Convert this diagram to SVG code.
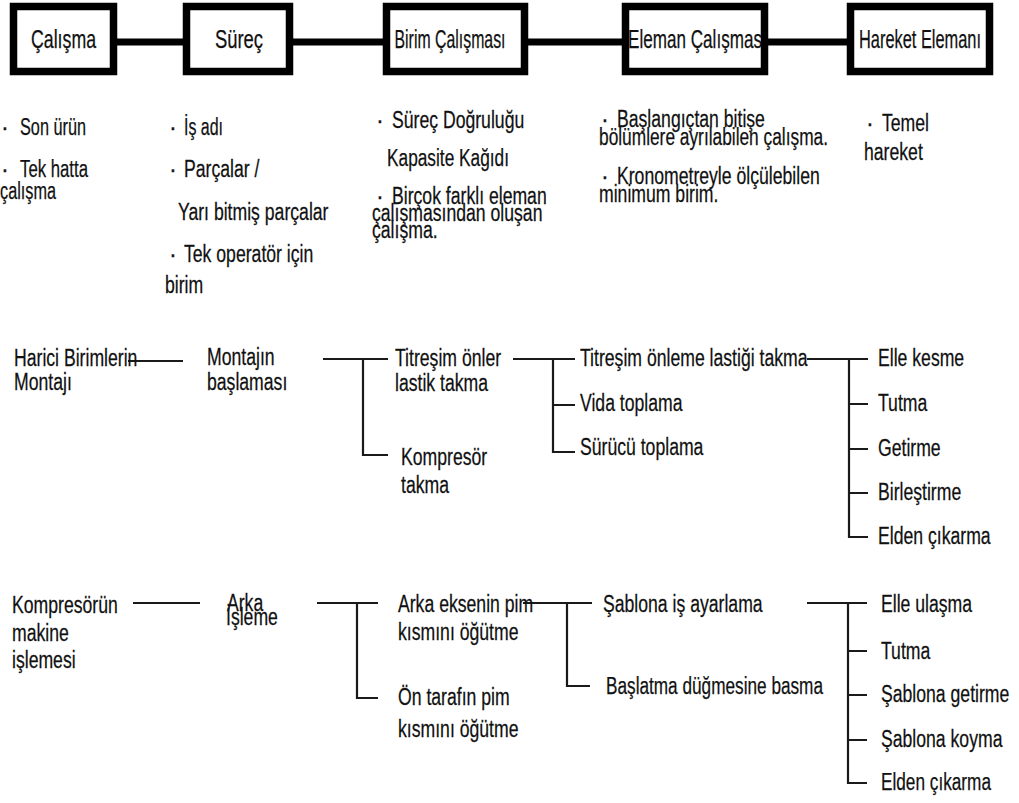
<svg xmlns="http://www.w3.org/2000/svg" width="1019" height="803" viewBox="0 0 1019 803">
  <style>
    text { font-family: "Liberation Sans", Arial, sans-serif; font-size: 23.5px; fill: #111111; stroke: #111111; stroke-width: 0.25; }
    .box { fill: #ffffff; stroke: #000000; stroke-width: 7.5; }
    .bar { stroke: #000000; stroke-width: 7; fill: none; }
    .ln { stroke: #1a1a1a; stroke-width: 2.2; fill: none; }
    .lbl { text-anchor: middle; font-size: 25px; }
  </style>

  <!-- connectors -->
  <g id="connectors">
    <!-- thick links between the header boxes -->
    <line class="bar" x1="117" y1="42" x2="183" y2="42"/>
    <line class="bar" x1="293" y1="42" x2="383" y2="42"/>
    <line class="bar" x1="528" y1="42" x2="622" y2="42"/>
    <line class="bar" x1="768" y1="42" x2="847" y2="42"/>

    <!-- assembly branch -->
    <line class="ln" x1="128" y1="361" x2="183" y2="361"/>
    <path class="ln" d="M323 359 H388 M363 359 V455 H388"/>
    <path class="ln" d="M513 359 H575 M553 359 V452 H575 M553 405 H575"/>
    <path class="ln" d="M807 359 H868 M849 359 V537 H868 M849 404 H868 M849 449 H868 M849 493 H868"/>

    <!-- machining branch -->
    <line class="ln" x1="133" y1="603" x2="200" y2="603"/>
    <path class="ln" d="M317 603 H378 M357 603 V698 H378"/>
    <path class="ln" d="M523 603 H592 M567 603 V686 H590"/>
    <path class="ln" d="M807 603 H867 M848 603 V783 H867 M848 651 H867 M848 695 H867 M848 740 H867"/>
  </g>

  <!-- header boxes -->
  <g id="calisma">
    <rect class="box" x="13.5" y="6.5" width="100" height="65"/>
    <text class="lbl" x="63.5" y="48" textLength="65" lengthAdjust="spacingAndGlyphs">Çalışma</text>
  </g>
  <g id="surec">
    <rect class="box" x="186.5" y="6.5" width="103" height="65"/>
    <text class="lbl" x="239" y="48" textLength="48" lengthAdjust="spacingAndGlyphs">Süreç</text>
  </g>
  <g id="birim-calismasi">
    <rect class="box" x="386.5" y="6.5" width="138" height="65"/>
    <text class="lbl" x="450" y="48" textLength="111" lengthAdjust="spacingAndGlyphs">Birim Çalışması</text>
  </g>
  <g id="eleman-calismasi">
    <rect class="box" x="625.5" y="6.5" width="139" height="65"/>
    <text class="lbl" x="695" y="48" textLength="134" lengthAdjust="spacingAndGlyphs">Eleman Çalışmas</text>
  </g>
  <g id="hareket-elemani">
    <rect class="box" x="850.5" y="6.5" width="139" height="65"/>
    <text class="lbl" x="920" y="48" textLength="122" lengthAdjust="spacingAndGlyphs">Hareket Elemanı</text>
  </g>

  <!-- descriptions under each header -->
  <g id="desc-calisma">
    <text x="1" y="135">·</text>
    <text x="20" y="135" textLength="66" lengthAdjust="spacingAndGlyphs">Son ürün</text>
    <text x="1" y="177">·</text>
    <text x="20" y="177" textLength="68" lengthAdjust="spacingAndGlyphs">Tek hatta</text>
    <text x="0" y="199" textLength="56" lengthAdjust="spacingAndGlyphs">çalışma</text>
  </g>
  <g id="desc-surec">
    <text x="169" y="135">·</text>
    <text x="184" y="135" textLength="39" lengthAdjust="spacingAndGlyphs">İş adı</text>
    <text x="169" y="177">·</text>
    <text transform="translate(184 177) scale(.75 1)">Parçalar /</text>
    <text transform="translate(178 220) scale(.75 1)">Yarı bitmiş parçalar</text>
    <text x="169" y="262">·</text>
    <text transform="translate(184 262) scale(.75 1)">Tek operatör için</text>
    <text transform="translate(165 293) scale(.75 1)">birim</text>
  </g>
  <g id="desc-birim">
    <text x="376" y="128">·</text>
    <text transform="translate(392 128) scale(.75 1)">Süreç Doğruluğu</text>
    <text x="387" y="166" textLength="122" lengthAdjust="spacingAndGlyphs">Kapasite Kağıdı</text>
    <text x="376" y="204">·</text>
    <text transform="translate(392 204) scale(.75 1)">Birçok farklı eleman</text>
    <text transform="translate(372 221) scale(.75 1)">çalışmasından oluşan</text>
    <text transform="translate(372 238) scale(.75 1)">çalışma.</text>
  </g>
  <g id="desc-eleman">
    <text x="601" y="127">·</text>
    <text transform="translate(617 127) scale(.75 1)">Başlangıçtan bitişe</text>
    <text x="599" y="145" textLength="229" lengthAdjust="spacingAndGlyphs">bölümlere ayrılabilen çalışma.</text>
    <text x="601" y="184">·</text>
    <text transform="translate(617 184) scale(.75 1)">Kronometreyle ölçülebilen</text>
    <text transform="translate(599 202) scale(.75 1)">minimum birim.</text>
  </g>
  <g id="desc-hareket">
    <text x="866" y="131">·</text>
    <text transform="translate(882 131) scale(.75 1)">Temel</text>
    <text transform="translate(864 160) scale(.75 1)">hareket</text>
  </g>

  <!-- assembly example -->
  <g id="harici-birimler">
    <text transform="translate(14 366) scale(.75 1)">Harici Birimlerin</text>
    <text transform="translate(14 390) scale(.75 1)">Montajı</text>
  </g>
  <g id="montaj-baslamasi">
    <text transform="translate(207 365) scale(.75 1)">Montajın</text>
    <text transform="translate(207 390) scale(.75 1)">başlaması</text>
  </g>
  <g id="titresim-onler">
    <text transform="translate(395 366) scale(.75 1)">Titreşim önler</text>
    <text transform="translate(395 391) scale(.75 1)">lastik takma</text>
  </g>
  <g id="kompresor-takma">
    <text transform="translate(401 465) scale(.75 1)">Kompresör</text>
    <text transform="translate(401 493) scale(.75 1)">takma</text>
  </g>
  <g id="lastik-takma">
    <text transform="translate(580 366) scale(.75 1)">Titreşim önleme lastiği takma</text>
  </g>
  <g id="vida-toplama">
    <text transform="translate(580 411) scale(.75 1)">Vida toplama</text>
  </g>
  <g id="surucu-toplama">
    <text transform="translate(580 455) scale(.75 1)">Sürücü toplama</text>
  </g>
  <g id="hareket-1">
    <text transform="translate(878 366) scale(.75 1)">Elle kesme</text>
    <text transform="translate(878 411) scale(.75 1)">Tutma</text>
    <text transform="translate(878 456) scale(.75 1)">Getirme</text>
    <text transform="translate(878 500) scale(.75 1)">Birleştirme</text>
    <text transform="translate(878 544) scale(.75 1)">Elden çıkarma</text>
  </g>

  <!-- machining example -->
  <g id="kompresor-isleme">
    <text transform="translate(12 613) scale(.75 1)">Kompresörün</text>
    <text transform="translate(12 641) scale(.75 1)">makine</text>
    <text transform="translate(12 668) scale(.75 1)">işlemesi</text>
  </g>
  <g id="arka-isleme">
    <text transform="translate(227 611) scale(.75 1)">Arka</text>
    <text transform="translate(226 625) scale(.75 1)">İşleme</text>
  </g>
  <g id="arka-eksen">
    <text transform="translate(398 612) scale(.75 1)">Arka eksenin pim</text>
    <text transform="translate(398 640) scale(.75 1)">kısmını öğütme</text>
  </g>
  <g id="on-taraf">
    <text transform="translate(398 705) scale(.75 1)">Ön tarafın pim</text>
    <text transform="translate(398 737) scale(.75 1)">kısmını öğütme</text>
  </g>
  <g id="sablona-is">
    <text transform="translate(603 612) scale(.75 1)">Şablona iş ayarlama</text>
  </g>
  <g id="baslatma">
    <text x="606" y="694" textLength="217" lengthAdjust="spacingAndGlyphs">Başlatma düğmesine basma</text>
  </g>
  <g id="hareket-2">
    <text transform="translate(881 612) scale(.75 1)">Elle ulaşma</text>
    <text transform="translate(881 659) scale(.75 1)">Tutma</text>
    <text transform="translate(881 702) scale(.75 1)">Şablona getirme</text>
    <text transform="translate(881 747) scale(.75 1)">Şablona koyma</text>
    <text x="881" y="790" textLength="110" lengthAdjust="spacingAndGlyphs">Elden çıkarma</text>
  </g>
</svg>
